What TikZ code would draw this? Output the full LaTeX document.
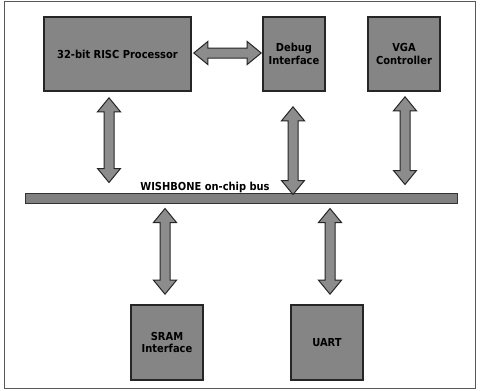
\documentclass[tikz,border=0pt]{standalone}
\usepackage{fontspec}
\setmainfont{DejaVu Sans Condensed}
\usetikzlibrary{calc}
\tikzset{
  block/.style={draw=black!85, line width=1.6pt, fill=black!48, font=\fontsize{11}{12.5}\selectfont\bfseries, text=black, align=center, inner sep=0pt},
  blockarrow/.style={draw=black!85, line width=1pt, fill=black!45, line join=miter},
  busbar/.style={draw=black!80, line width=1pt, fill=black!50, inner sep=0pt},
  frame/.style={draw=black!65, line width=0.8pt}
}
\newcommand\varrowblk[2]{%
  \draw[blockarrow] let \p1=(#1), \p2=(#2) in
   (\x1,\y1) -- (\x1+11.5pt,\y1-14pt) -- (\x1+5pt,\y1-14pt) -- (\x1+5pt,\y2+14pt)
   -- (\x1+11.5pt,\y2+14pt) -- (\x1,\y2) -- (\x1-11.5pt,\y2+14pt) -- (\x1-5pt,\y2+14pt)
   -- (\x1-5pt,\y1-14pt) -- (\x1-11.5pt,\y1-14pt) -- cycle;}
\newcommand\harrowblk[2]{%
  \draw[blockarrow] let \p1=(#1), \p2=(#2) in
   (\x1,\y1) -- (\x1+14pt,\y1+11.5pt) -- (\x1+14pt,\y1+5pt) -- (\x2-14pt,\y1+5pt)
   -- (\x2-14pt,\y1+11.5pt) -- (\x2,\y1) -- (\x2-14pt,\y1-11.5pt) -- (\x2-14pt,\y1-5pt)
   -- (\x1+14pt,\y1-5pt) -- (\x1+14pt,\y1-11.5pt) -- cycle;}
\begin{document}
\begin{tikzpicture}[x=1pt,y=-1pt]
\useasboundingbox (0,0) rectangle (480,391);
\draw[frame] (4,1) rectangle (475,388);
\node[block, minimum width=147pt, minimum height=74pt] (proc) at (117.5,54) {32-bit RISC Processor};
\node[block, minimum width=62pt, minimum height=74pt] (dbg) at (294,54) {Debug\\Interface};
\node[block, minimum width=72pt, minimum height=74pt] (vga) at (404,54) {VGA\\Controller};
\node[block, minimum width=72pt, minimum height=75pt] (sram) at (167,342.5) {SRAM\\Interface};
\node[block, minimum width=72pt, minimum height=75pt] (uart) at (327,342.5) {UART};
\node[busbar, minimum width=432pt, minimum height=10pt] (bus) at (241,198) {};
\node[font=\fontsize{11}{12.5}\selectfont\bfseries, text=black] (buslabel) at (205,187) {WISHBONE on-chip bus};
\coordinate (hl) at ($(proc.east)+(2,-1)$);
\coordinate (hr) at ($(dbg.west)+(-1,-1)$);
\harrowblk{hl}{hr}
\coordinate (a1t) at ($(proc.south)+(-8.5,6)$);
\coordinate (a1b) at ($(bus.north)+(-132,-10)$);
\varrowblk{a1t}{a1b}
\coordinate (a2t) at ($(dbg.south)+(-1,15)$);
\coordinate (a2b) at ($(bus.north)+(52,2)$);
\varrowblk{a2t}{a2b}
\coordinate (a3t) at ($(vga.south)+(1,5)$);
\coordinate (a3b) at ($(bus.north)+(164,-8)$);
\varrowblk{a3t}{a3b}
\coordinate (a4t) at ($(bus.south)+(-76,5)$);
\coordinate (a4b) at ($(sram.north)+(-2,-10)$);
\varrowblk{a4t}{a4b}
\coordinate (a5t) at ($(bus.south)+(89,5)$);
\coordinate (a5b) at ($(uart.north)+(3,-10)$);
\varrowblk{a5t}{a5b}
\end{tikzpicture}
\end{document}
